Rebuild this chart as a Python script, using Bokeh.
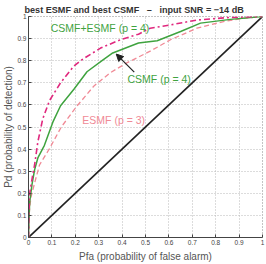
from bokeh.plotting import figure
from bokeh.models import FixedTicker, Label, Arrow, NormalHead, Range1d
from bokeh.embed import file_html
from bokeh.resources import INLINE

# ROC curves (Pfa, Pd)
csmf_pfa = [0, 0.002, 0.005, 0.015, 0.026, 0.04, 0.068, 0.104, 0.137, 0.194, 0.25, 0.32, 0.36, 0.47, 0.55, 0.65, 0.735, 0.863, 1.0]
csmf_pd = [0, 0.08, 0.16, 0.24, 0.306, 0.36, 0.417, 0.522, 0.596, 0.671, 0.75, 0.805, 0.835, 0.88, 0.89, 0.932, 0.97, 0.987, 1.0]

both_pfa = [0, 0.002, 0.005, 0.016, 0.026, 0.04, 0.061, 0.09, 0.137, 0.194, 0.229, 0.308, 0.393, 0.47, 0.52, 0.607, 0.72, 0.863, 1.0]
both_pd = [0, 0.12, 0.2, 0.27, 0.328, 0.433, 0.537, 0.62, 0.70, 0.776, 0.805, 0.857, 0.895, 0.92, 0.947, 0.962, 0.984, 0.996, 1.0]

esmf_pfa = [0, 0.004, 0.01, 0.026, 0.047, 0.09, 0.14, 0.208, 0.28, 0.35, 0.42, 0.52, 0.607, 0.72, 0.833, 0.92, 1.0]
esmf_pd = [0, 0.12, 0.18, 0.246, 0.328, 0.403, 0.5, 0.596, 0.686, 0.746, 0.79, 0.843, 0.895, 0.947, 0.977, 0.992, 1.0]

diag = [0, 1]

ticks = [0, 0.1, 0.2, 0.3, 0.4, 0.5, 0.6, 0.7, 0.8, 0.9, 1.0]
tick_labels = {0: "0", 0.1: "0.1", 0.2: "0.2", 0.3: "0.3", 0.4: "0.4", 0.5: "0.5",
               0.6: "0.6", 0.7: "0.7", 0.8: "0.8", 0.9: "0.9", 1.0: "1"}

NB = "\u00a0"
title = "best ESMF and best CSMF" + NB * 3 + "\u2013" + NB * 3 + "input SNR = \u221214 dB"
FONT = "Liberation Sans"
GREEN = "#3fa33f"
MAGENTA = "#e0287e"
PINK = "#f08a96"

p = figure(width=266, height=264, output_backend="svg", toolbar_location=None,
           x_range=Range1d(0, 1), y_range=Range1d(0, 1),
           min_border_left=4, min_border_right=4, min_border_top=4, min_border_bottom=4)

p.title.text = title
p.title.text_font = FONT
p.title.text_font_size = "9.1px"
p.title.text_font_style = "bold"
p.title.text_color = "#333333"
p.title.align = "left"
p.title.offset = -4
p.title.standoff = 4

for ax in (p.xaxis[0], p.yaxis[0]):
    ax.ticker = FixedTicker(ticks=ticks)
    ax.major_label_overrides = tick_labels
    ax.major_label_text_font = FONT
    ax.major_label_text_font_size = "6.5px"
    ax.major_label_text_color = "#444444"
    ax.major_tick_in = 3
    ax.major_tick_out = 0
    ax.minor_tick_line_color = None
    ax.axis_line_color = "#444444"
    ax.major_tick_line_color = "#444444"
    ax.axis_label_text_font = FONT
    ax.axis_label_text_font_size = "10px"
    ax.axis_label_text_font_style = "normal"
    ax.axis_label_text_color = "#555555"
    ax.major_label_standoff = 2

p.xaxis[0].axis_label_standoff = 3
p.yaxis[0].axis_label_standoff = 0

p.xaxis.axis_label = "Pfa (probability of false alarm)"
p.yaxis.axis_label = "Pd (probability of detection)"

p.grid.grid_line_color = "#b8b8b8"
p.grid.grid_line_dash = "1 2"
p.grid.grid_line_width = 1
p.xgrid.ticker = FixedTicker(ticks=ticks)
p.ygrid.ticker = FixedTicker(ticks=ticks)
p.outline_line_color = "#888888"
p.outline_line_dash = "1 2"

p.line(diag, diag, line_color="#222222", line_width=1.6)
p.line(esmf_pfa, esmf_pd, line_color=PINK, line_width=1.3, line_dash="5 3")
p.line(csmf_pfa, csmf_pd, line_color=GREEN, line_width=1.5)
p.line(both_pfa, both_pd, line_color=MAGENTA, line_width=1.6, line_dash="6 3 2 3")

p.add_layout(Label(x=0.095, y=0.95, text="CSMF+ESMF (p = 4)", text_color=GREEN,
                   text_font=FONT, text_font_size="10.5px", text_baseline="middle"))
p.add_layout(Label(x=0.423, y=0.716, text="CSMF (p = 4)", text_color=GREEN,
                   text_font=FONT, text_font_size="10.5px", text_baseline="middle"))
p.add_layout(Label(x=0.23, y=0.532, text="ESMF (p = 3)", text_color=PINK,
                   text_font=FONT, text_font_size="10.5px", text_baseline="middle"))
p.add_layout(Arrow(x_start=0.452, y_start=0.748, x_end=0.375, y_end=0.83,
                   line_color="#222222", line_width=1.2,
                   end=NormalHead(size=7, fill_color="#222222", line_color="#222222")))

open("out.html", "w").write(file_html(p, INLINE))
